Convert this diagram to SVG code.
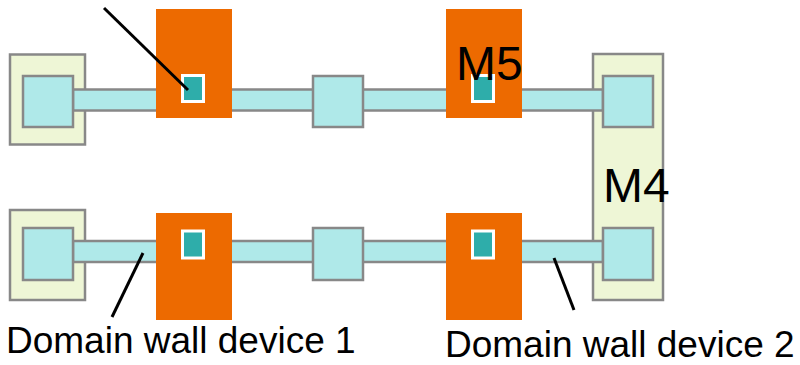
<svg xmlns="http://www.w3.org/2000/svg" width="800" height="365" viewBox="0 0 800 365">
<style>
.pad{fill:#EEF6D6;stroke:#888888;stroke-width:2.5}
.sq{fill:#AFE9E9;stroke:#888888;stroke-width:2.5}
.wire{fill:#AFE9E9;stroke:#888888;stroke-width:2.5}
.gate{fill:#ED6A00}
.via{fill:#2EADAA;stroke:#FFFFFF;stroke-width:3}
.lbl{font-family:"Liberation Sans",Arial,sans-serif;fill:#000}
.lead{stroke:#000;stroke-width:3;fill:none}
</style>
<rect width="800" height="365" fill="#FFFFFF"/>
<g id="pads">
<rect class="pad" x="10" y="54.5" width="75" height="90"/>
<rect class="pad" x="10" y="210" width="75" height="90"/>
<rect class="pad" x="593" y="54" width="70" height="246"/>
</g>
<g id="wires">
<rect class="wire" x="73" y="89.5" width="530" height="21"/>
<rect class="wire" x="73" y="241" width="530" height="21"/>
</g>
<g id="top-left-contact"><rect class="sq" x="23" y="76" width="50" height="51"/></g>
<g id="top-mid-contact"><rect class="sq" x="313" y="76" width="50" height="51"/></g>
<g id="top-right-contact"><rect class="sq" x="603" y="76" width="50" height="51"/></g>
<g id="bottom-left-contact"><rect class="sq" x="23" y="228" width="50" height="52"/></g>
<g id="bottom-mid-contact"><rect class="sq" x="313" y="228" width="50" height="52"/></g>
<g id="bottom-right-contact"><rect class="sq" x="603" y="228" width="50" height="52"/></g>
<g id="gate-top-1"><rect class="gate" x="156" y="9" width="76" height="109"/><rect class="via" x="182.5" y="75.5" width="21" height="26"/></g>
<g id="gate-top-2"><rect class="gate" x="446" y="9" width="76" height="109"/><rect class="via" x="472.5" y="75.5" width="21" height="26"/></g>
<g id="gate-bottom-1"><rect class="gate" x="156" y="213" width="76" height="107"/><rect class="via" x="182.5" y="231" width="21" height="27"/></g>
<g id="gate-bottom-2"><rect class="gate" x="446" y="213" width="76" height="107"/><rect class="via" x="472.5" y="231" width="21" height="27"/></g>
<g id="labels">
<text class="lbl" x="456" y="80" font-size="48">M5</text>
<text class="lbl" x="603" y="202" font-size="48">M4</text>
<text class="lbl" x="6" y="353" font-size="37">Domain wall device 1</text>
<text class="lbl" x="445" y="357" font-size="37">Domain wall device 2</text>
</g>
<g id="connectors">
<line class="lead" x1="104" y1="8" x2="188" y2="90"/>
<line class="lead" x1="143" y1="253" x2="112" y2="317"/>
<line class="lead" x1="554" y1="258" x2="574" y2="310"/>
</g>
</svg>
